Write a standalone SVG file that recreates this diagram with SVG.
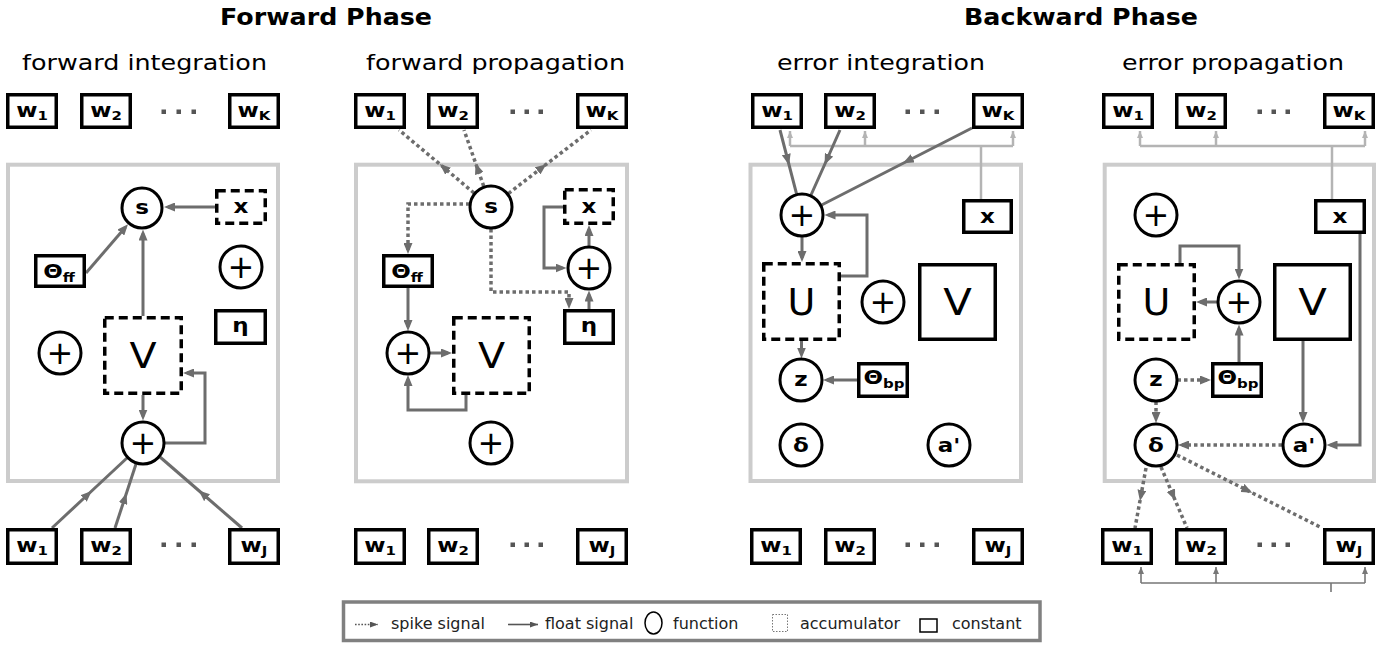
<svg xmlns="http://www.w3.org/2000/svg" width="1396" height="647" viewBox="0 0 1396 647">
  <defs>
    <style>
      text { font-family: "DejaVu Sans", sans-serif; fill: #000; }
      .h { font-weight: bold; font-size: 23px; text-anchor: middle; }
      .st { font-size: 22px; text-anchor: middle; }
      .lb { font-weight: bold; font-size: 20px; text-anchor: middle; }
      .sb { font-size: 13px; }
      .big { font-size: 36px; text-anchor: middle; }
      .pl { font-size: 32px; text-anchor: middle; dominant-baseline: central; }
      .lg { font-size: 16px; fill: #222; }
      .frame { fill: none; stroke: #cccccc; stroke-width: 4; }
      .box { fill: #fff; stroke: #000; stroke-width: 3.5; }
      .acc { fill: #fff; stroke: #000; stroke-width: 3.5; stroke-dasharray: 9 5; }
      .fn { fill: #fff; stroke: #000; stroke-width: 3; }
      .dots rect { fill: #555; }
      .fl { fill: none; stroke: #6d6d6d; stroke-width: 3; }
      .sp { fill: none; stroke: #6d6d6d; stroke-width: 3.5; stroke-dasharray: 3.5 3; }
      .end { marker-end: url(#ah); }
      .mid { marker-mid: url(#am); }
      .bus { fill: none; stroke: #b4b4b4; stroke-width: 2.5; }
      .bus2 { fill: none; stroke: #777; stroke-width: 1.6; }
    </style>
    <marker id="ah" viewBox="0 0 11 9" refX="7" refY="4.5" markerWidth="11" markerHeight="9" markerUnits="userSpaceOnUse" orient="auto">
      <path d="M0,0 L11,4.5 L0,9 Z" fill="#6d6d6d"/>
    </marker>
    <marker id="am" viewBox="0 0 11 9" refX="8" refY="4.5" markerWidth="11" markerHeight="9" markerUnits="userSpaceOnUse" orient="auto">
      <path d="M0,0 L11,4.5 L0,9 Z" fill="#6d6d6d"/>
    </marker>
    <marker id="al" viewBox="0 0 7 6" refX="7" refY="3" markerWidth="7" markerHeight="6" markerUnits="userSpaceOnUse" orient="auto">
      <path d="M0,0 L7,3 L0,6 Z" fill="#b4b4b4"/>
    </marker>
    <marker id="ab" viewBox="0 0 7 6" refX="7" refY="3" markerWidth="7" markerHeight="6" markerUnits="userSpaceOnUse" orient="auto">
      <path d="M0,0 L7,3 L0,6 Z" fill="#777"/>
    </marker>
    <marker id="lgm" viewBox="0 0 8 6" refX="8" refY="3" markerWidth="8" markerHeight="6" markerUnits="userSpaceOnUse" orient="auto">
      <path d="M0,0 L8,3 L0,6 Z" fill="#555"/>
    </marker>
    <filter id="soft" x="-5%" y="-20%" width="110%" height="140%">
      <feGaussianBlur stdDeviation="0.6"/>
    </filter>
  </defs>

  <rect width="1396" height="647" fill="#fff"/>

  <!-- headings -->
  <g id="headings">
    <text class="h" x="326" y="25" textLength="212" lengthAdjust="spacingAndGlyphs">Forward Phase</text>
    <text class="h" x="1081" y="25" textLength="234" lengthAdjust="spacingAndGlyphs">Backward Phase</text>
    <text class="st" x="144.5" y="70" textLength="245" lengthAdjust="spacingAndGlyphs">forward integration</text>
    <text class="st" x="495.5" y="70" textLength="259" lengthAdjust="spacingAndGlyphs">forward propagation</text>
    <text class="st" x="881" y="70" textLength="208" lengthAdjust="spacingAndGlyphs">error integration</text>
    <text class="st" x="1233" y="70" textLength="222" lengthAdjust="spacingAndGlyphs">error propagation</text>
  </g>

  <!-- neuron frames -->
  <g id="frames">
    <rect class="frame" x="8" y="164.7" width="270" height="316.3"/>
    <rect class="frame" x="356" y="164.7" width="271" height="316.6"/>
    <rect class="frame" x="750.5" y="164.7" width="270.5" height="316.3"/>
    <rect class="frame" x="1104.7" y="164.7" width="269.3" height="316.3"/>
  </g>

  <!-- ellipsis between weights -->
  <g class="dots">
    <rect x="161.5" y="109.5" width="4.5" height="4.5"/><rect x="176.5" y="109.5" width="4.5" height="4.5"/><rect x="191.5" y="109.5" width="4.5" height="4.5"/>
    <rect x="161.5" y="542.5" width="4.5" height="4.5"/><rect x="176.5" y="542.5" width="4.5" height="4.5"/><rect x="191.5" y="542.5" width="4.5" height="4.5"/>
    <rect x="510.5" y="109.5" width="4.5" height="4.5"/><rect x="524.5" y="109.5" width="4.5" height="4.5"/><rect x="538.5" y="109.5" width="4.5" height="4.5"/>
    <rect x="510.5" y="542.5" width="4.5" height="4.5"/><rect x="524.5" y="542.5" width="4.5" height="4.5"/><rect x="538.5" y="542.5" width="4.5" height="4.5"/>
    <rect x="905.5" y="109.5" width="4.5" height="4.5"/><rect x="920" y="109.5" width="4.5" height="4.5"/><rect x="934.5" y="109.5" width="4.5" height="4.5"/>
    <rect x="905.5" y="542.5" width="4.5" height="4.5"/><rect x="920" y="542.5" width="4.5" height="4.5"/><rect x="934.5" y="542.5" width="4.5" height="4.5"/>
    <rect x="1257.5" y="109.5" width="4.5" height="4.5"/><rect x="1271.5" y="109.5" width="4.5" height="4.5"/><rect x="1285.5" y="109.5" width="4.5" height="4.5"/>
    <rect x="1257.5" y="542.5" width="4.5" height="4.5"/><rect x="1271.5" y="542.5" width="4.5" height="4.5"/><rect x="1285.5" y="542.5" width="4.5" height="4.5"/>
  </g>

  <!-- connectors -->
  <g id="connectors">
    <!-- forward integration -->
    <path class="fl end" d="M215,207 H168"/>
    <path class="fl end" d="M86,273 L125.4,227.3"/>
    <path class="fl end" d="M143,316 V233.5"/>
    <path class="fl end" d="M143,395 V416.5"/>
    <path class="fl end" d="M164.5,443 H205 V373 H187"/>
    <polyline class="fl mid" points="52,528 89.5,493 127,458"/>
    <polyline class="fl mid" points="115,528 125.5,496 136,464"/>
    <polyline class="fl mid" points="242,528 201,492.5 160,457"/>

    <!-- forward propagation -->
    <polyline class="sp mid" points="474,193 442,166 399,130"/>
    <polyline class="sp mid" points="483.7,186.2 476.6,166 464,130"/>
    <polyline class="sp mid" points="508.4,193.6 544,166 591,130"/>
    <path class="sp end" d="M469.5,204 H408 V250"/>
    <path class="sp end" d="M491,229 V292 H569 V305"/>
    <path class="fl end" d="M589,309 V294.5"/>
    <path class="fl end" d="M589,246 V229"/>
    <path class="fl end" d="M563,207 H544 V268 H562.5"/>
    <path class="fl end" d="M408,288 V327"/>
    <path class="fl end" d="M430,353 H448"/>
    <path class="fl end" d="M466,395 V410 H408 V379"/>

    <!-- error integration -->
    <g filter="url(#soft)">
      <path class="bus" d="M790,146 H1013"/>
      <path class="bus" d="M790,146 V131" marker-end="url(#al)"/>
      <path class="bus" d="M865,146 V131" marker-end="url(#al)"/>
      <path class="bus" d="M1013,146 V131" marker-end="url(#al)"/>
      <path class="bus" d="M981,146 V199"/>
    </g>
    <polyline class="fl mid" points="780,130 788.3,162 796.5,193.7"/>
    <polyline class="fl mid" points="840,130 825.8,162 811,195"/>
    <polyline class="fl mid" points="972,128 905.6,162 821.6,205"/>
    <path class="fl end" d="M841,276 H867 V215 H828.5"/>
    <path class="fl end" d="M802,237 V258"/>
    <path class="fl end" d="M801.5,341 V354.5"/>
    <path class="fl end" d="M857,380 H827"/>

    <!-- error propagation -->
    <g filter="url(#soft)">
      <path class="bus" d="M1140,146 H1365"/>
      <path class="bus" d="M1140,146 V131" marker-end="url(#al)"/>
      <path class="bus" d="M1216,146 V131" marker-end="url(#al)"/>
      <path class="bus" d="M1365,146 V131" marker-end="url(#al)"/>
      <path class="bus" d="M1332,146 V199"/>
    </g>
    <path class="fl end" d="M1180,263 V246 H1239 V275.5"/>
    <path class="fl end" d="M1217,302 H1200"/>
    <path class="fl end" d="M1239,362 V328.5"/>
    <path class="sp end" d="M1177.5,380 H1207"/>
    <path class="sp end" d="M1156,401.5 V419"/>
    <path class="fl end" d="M1303,341 V419"/>
    <path class="fl end" d="M1360,234 V445 H1330.5"/>
    <path class="sp end" d="M1282,445 H1182"/>
    <polyline class="sp mid" points="1146,468 1140.5,498 1135,528"/>
    <polyline class="sp mid" points="1161,467 1174,497.5 1187,528"/>
    <polyline class="sp mid" points="1177,455 1249.5,491.5 1322,528"/>
    <path class="bus2" d="M1141,583 H1365 M1331,583 V592"/>
    <path class="bus2" d="M1141,583 V567" marker-end="url(#ab)"/>
    <path class="bus2" d="M1216,583 V567" marker-end="url(#ab)"/>
    <path class="bus2" d="M1365,583 V567" marker-end="url(#ab)"/>
  </g>

  <!-- forward integration nodes -->
  <g id="fi-w1"><rect class="box" x="7.75" y="94.75" width="48.5" height="32.5"/><text class="lb" transform="translate(32,116.5) scale(1.15 1)">w<tspan class="sb" dy="3">1</tspan></text></g>
  <g id="fi-w2"><rect class="box" x="81.75" y="94.75" width="48.5" height="32.5"/><text class="lb" transform="translate(106,116.5) scale(1.15 1)">w<tspan class="sb" dy="3">2</tspan></text></g>
  <g id="fi-wK"><rect class="box" x="229.75" y="94.75" width="48.5" height="32.5"/><text class="lb" transform="translate(254,116.5) scale(1.15 1)">w<tspan class="sb" dy="3">K</tspan></text></g>
  <g id="fi-s"><circle class="fn" cx="142" cy="208" r="20"/><text class="lb" transform="translate(142,213.5) scale(1.15 1)">s</text></g>
  <g id="fi-x"><rect class="acc" x="216.75" y="190.75" width="48.5" height="32.5"/><text class="lb" transform="translate(241,213) scale(1.15 1)">x</text></g>
  <g id="fi-theta"><rect class="box" x="35.75" y="255.75" width="48.5" height="30.5"/><text class="lb" transform="translate(59,278) scale(1.15 1)">Θ<tspan class="sb" dy="4">ff</tspan></text></g>
  <g id="fi-add1"><circle class="fn" cx="241" cy="267" r="21"/><text class="pl" x="241" y="267">+</text></g>
  <g id="fi-eta"><rect class="box" x="215.75" y="310.75" width="49.5" height="32.5"/><text class="lb" transform="translate(240.5,331.5) scale(1.15 1)">η</text></g>
  <g id="fi-add2"><circle class="fn" cx="60" cy="353" r="21"/><text class="pl" x="60" y="353">+</text></g>
  <g id="fi-V"><rect class="acc" x="104.75" y="317.75" width="76.5" height="75.5"/><text class="big" transform="translate(143,368) scale(1.1 1)">V</text></g>
  <g id="fi-add3"><circle class="fn" cx="143" cy="443" r="21"/><text class="pl" x="143" y="443">+</text></g>
  <g id="fi-in1"><rect class="box" x="7.75" y="529.75" width="48.5" height="33.5"/><text class="lb" transform="translate(32,552) scale(1.15 1)">w<tspan class="sb" dy="3">1</tspan></text></g>
  <g id="fi-in2"><rect class="box" x="81.75" y="529.75" width="48.5" height="33.5"/><text class="lb" transform="translate(106,552) scale(1.15 1)">w<tspan class="sb" dy="3">2</tspan></text></g>
  <g id="fi-inJ"><rect class="box" x="229.75" y="529.75" width="48.5" height="33.5"/><text class="lb" transform="translate(254,552) scale(1.15 1)">w<tspan class="sb" dy="3">J</tspan></text></g>

  <!-- forward propagation nodes -->
  <g id="fp-w1"><rect class="box" x="355.75" y="94.75" width="48.5" height="32.5"/><text class="lb" transform="translate(380,116.5) scale(1.15 1)">w<tspan class="sb" dy="3">1</tspan></text></g>
  <g id="fp-w2"><rect class="box" x="428.75" y="94.75" width="48.5" height="32.5"/><text class="lb" transform="translate(453,116.5) scale(1.15 1)">w<tspan class="sb" dy="3">2</tspan></text></g>
  <g id="fp-wK"><rect class="box" x="577.75" y="94.75" width="48.5" height="32.5"/><text class="lb" transform="translate(602,116.5) scale(1.15 1)">w<tspan class="sb" dy="3">K</tspan></text></g>
  <g id="fp-s"><circle class="fn" cx="491" cy="207" r="21"/><text class="lb" transform="translate(491,212.5) scale(1.15 1)">s</text></g>
  <g id="fp-x"><rect class="acc" x="564.75" y="189.75" width="48.5" height="33.5"/><text class="lb" transform="translate(589,212.5) scale(1.15 1)">x</text></g>
  <g id="fp-add1"><circle class="fn" cx="589" cy="268" r="21"/><text class="pl" x="589" y="268">+</text></g>
  <g id="fp-theta"><rect class="box" x="383.75" y="255.75" width="48.5" height="30.5"/><text class="lb" transform="translate(407,278) scale(1.15 1)">Θ<tspan class="sb" dy="4">ff</tspan></text></g>
  <g id="fp-eta"><rect class="box" x="564.75" y="310.75" width="48.5" height="32.5"/><text class="lb" transform="translate(589,331.5) scale(1.15 1)">η</text></g>
  <g id="fp-add2"><circle class="fn" cx="408" cy="353" r="21"/><text class="pl" x="408" y="353">+</text></g>
  <g id="fp-V"><rect class="acc" x="453.75" y="317.75" width="75.5" height="75.5"/><text class="big" transform="translate(491.5,368) scale(1.1 1)">V</text></g>
  <g id="fp-add3"><circle class="fn" cx="491" cy="443" r="21"/><text class="pl" x="491" y="443">+</text></g>
  <g id="fp-in1"><rect class="box" x="355.75" y="529.75" width="48.5" height="33.5"/><text class="lb" transform="translate(380,552) scale(1.15 1)">w<tspan class="sb" dy="3">1</tspan></text></g>
  <g id="fp-in2"><rect class="box" x="428.75" y="529.75" width="48.5" height="33.5"/><text class="lb" transform="translate(453,552) scale(1.15 1)">w<tspan class="sb" dy="3">2</tspan></text></g>
  <g id="fp-inJ"><rect class="box" x="577.75" y="529.75" width="48.5" height="33.5"/><text class="lb" transform="translate(602,552) scale(1.15 1)">w<tspan class="sb" dy="3">J</tspan></text></g>

  <!-- error integration nodes -->
  <g id="ei-w1"><rect class="box" x="752.75" y="94.75" width="48.5" height="32.5"/><text class="lb" transform="translate(777,116.5) scale(1.15 1)">w<tspan class="sb" dy="3">1</tspan></text></g>
  <g id="ei-w2"><rect class="box" x="825.75" y="94.75" width="48.5" height="32.5"/><text class="lb" transform="translate(850,116.5) scale(1.15 1)">w<tspan class="sb" dy="3">2</tspan></text></g>
  <g id="ei-wK"><rect class="box" x="973.75" y="94.75" width="48.5" height="32.5"/><text class="lb" transform="translate(998,116.5) scale(1.15 1)">w<tspan class="sb" dy="3">K</tspan></text></g>
  <g id="ei-add1"><circle class="fn" cx="802" cy="215" r="21"/><text class="pl" x="802" y="215">+</text></g>
  <g id="ei-x"><rect class="box" x="963.75" y="200.75" width="47.5" height="31.5"/><text class="lb" transform="translate(987.5,222.5) scale(1.15 1)">x</text></g>
  <g id="ei-U"><rect class="acc" x="763.75" y="263.75" width="75.5" height="75.5"/><text class="big" x="801.5" y="315" style="font-size:38px">U</text></g>
  <g id="ei-add2"><circle class="fn" cx="883" cy="302" r="21"/><text class="pl" x="883" y="302">+</text></g>
  <g id="ei-V"><rect class="box" x="919.75" y="264.75" width="75.5" height="74.5"/><text class="big" transform="translate(957.5,315) scale(1.1 1)" style="font-size:38px">V</text></g>
  <g id="ei-z"><circle class="fn" cx="801" cy="380" r="21"/><text class="lb" transform="translate(801,386) scale(1.15 1)">z</text></g>
  <g id="ei-theta"><rect class="box" x="858.75" y="363.75" width="48.5" height="32.5"/><text class="lb" transform="translate(884,383.5) scale(1.15 1)">Θ<tspan class="sb" dy="4">bp</tspan></text></g>
  <g id="ei-delta"><circle class="fn" cx="801" cy="445" r="21"/><text class="lb" transform="translate(801,452) scale(1.15 1)">δ</text></g>
  <g id="ei-da"><circle class="fn" cx="949" cy="445" r="21"/><text class="lb" transform="translate(949,451.5) scale(1.15 1)">a'</text></g>
  <g id="ei-in1"><rect class="box" x="751.75" y="529.75" width="48.5" height="33.5"/><text class="lb" transform="translate(776,552) scale(1.15 1)">w<tspan class="sb" dy="3">1</tspan></text></g>
  <g id="ei-in2"><rect class="box" x="825.75" y="529.75" width="48.5" height="33.5"/><text class="lb" transform="translate(850,552) scale(1.15 1)">w<tspan class="sb" dy="3">2</tspan></text></g>
  <g id="ei-inJ"><rect class="box" x="973.75" y="529.75" width="48.5" height="33.5"/><text class="lb" transform="translate(998,552) scale(1.15 1)">w<tspan class="sb" dy="3">J</tspan></text></g>

  <!-- error propagation nodes -->
  <g id="ep-w1"><rect class="box" x="1103.75" y="94.75" width="48.5" height="32.5"/><text class="lb" transform="translate(1128,116.5) scale(1.15 1)">w<tspan class="sb" dy="3">1</tspan></text></g>
  <g id="ep-w2"><rect class="box" x="1176.75" y="94.75" width="48.5" height="32.5"/><text class="lb" transform="translate(1201,116.5) scale(1.15 1)">w<tspan class="sb" dy="3">2</tspan></text></g>
  <g id="ep-wK"><rect class="box" x="1324.75" y="94.75" width="48.5" height="32.5"/><text class="lb" transform="translate(1349,116.5) scale(1.15 1)">w<tspan class="sb" dy="3">K</tspan></text></g>
  <g id="ep-add1"><circle class="fn" cx="1156" cy="215" r="21"/><text class="pl" x="1156" y="215">+</text></g>
  <g id="ep-x"><rect class="box" x="1315.75" y="200.75" width="48.5" height="31.5"/><text class="lb" transform="translate(1340,222.5) scale(1.15 1)">x</text></g>
  <g id="ep-U"><rect class="acc" x="1118.75" y="264.75" width="75.5" height="74.5"/><text class="big" x="1156.5" y="315" style="font-size:38px">U</text></g>
  <g id="ep-add2"><circle class="fn" cx="1239" cy="302" r="21"/><text class="pl" x="1239" y="302">+</text></g>
  <g id="ep-V"><rect class="box" x="1274.75" y="264.75" width="75.5" height="74.5"/><text class="big" transform="translate(1312.5,315) scale(1.1 1)" style="font-size:38px">V</text></g>
  <g id="ep-theta"><rect class="box" x="1212.75" y="363.75" width="48.5" height="32.5"/><text class="lb" transform="translate(1238,383.5) scale(1.15 1)">Θ<tspan class="sb" dy="4">bp</tspan></text></g>
  <g id="ep-z"><circle class="fn" cx="1156" cy="380" r="21"/><text class="lb" transform="translate(1156,386) scale(1.15 1)">z</text></g>
  <g id="ep-delta"><circle class="fn" cx="1156" cy="445" r="21"/><text class="lb" transform="translate(1156,452) scale(1.15 1)">δ</text></g>
  <g id="ep-da"><circle class="fn" cx="1304" cy="445" r="21"/><text class="lb" transform="translate(1304,451.5) scale(1.15 1)">a'</text></g>
  <g id="ep-in1"><rect class="box" x="1102.75" y="529.75" width="48.5" height="33.5"/><text class="lb" transform="translate(1127,552) scale(1.15 1)">w<tspan class="sb" dy="3">1</tspan></text></g>
  <g id="ep-in2"><rect class="box" x="1176.75" y="529.75" width="48.5" height="33.5"/><text class="lb" transform="translate(1201,552) scale(1.15 1)">w<tspan class="sb" dy="3">2</tspan></text></g>
  <g id="ep-inJ"><rect class="box" x="1324.75" y="529.75" width="48.5" height="33.5"/><text class="lb" transform="translate(1349,552) scale(1.15 1)">w<tspan class="sb" dy="3">J</tspan></text></g>

  <!-- legend -->
  <g id="legend">
    <rect x="343.5" y="602" width="696.5" height="38.5" fill="#fff" stroke="#808080" stroke-width="3.5"/>
    <path d="M355,624.5 H378" stroke="#555" stroke-width="1.6" stroke-dasharray="1.6 1.6" fill="none" marker-end="url(#lgm)"/>
    <path d="M378,624.5 H379" stroke="none" fill="none"/>
    <text class="lg" x="391" y="629">spike signal</text>
    <path d="M508,624.5 H538" stroke="#555" stroke-width="1.6" fill="none" marker-end="url(#lgm)"/>
    <text class="lg" x="545" y="629">float signal</text>
    <ellipse cx="653.5" cy="623" rx="8.5" ry="11" fill="none" stroke="#000" stroke-width="1.5"/>
    <text class="lg" x="673" y="629">function</text>
    <rect x="772.5" y="614.5" width="15" height="17" fill="none" stroke="#777" stroke-width="1" stroke-dasharray="1.5 1.5"/>
    <text class="lg" x="800" y="629">accumulator</text>
    <rect x="920" y="619" width="17" height="13" fill="none" stroke="#000" stroke-width="1.5"/>
    <text class="lg" x="952" y="629">constant</text>
  </g>
</svg>
